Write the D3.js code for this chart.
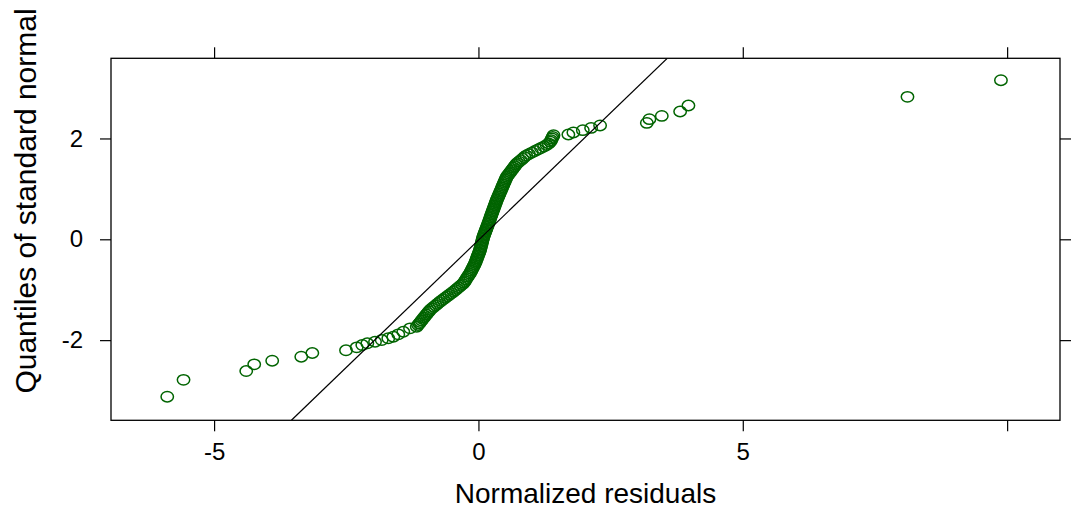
<!DOCTYPE html>
<html>
<head>
<meta charset="utf-8">
<script src="https://cdn.jsdelivr.net/npm/d3@7"></script>
<style>
  html, body { margin: 0; padding: 0; background: #ffffff; }
  svg { display: block; }
  text { font-family: "Liberation Sans", Arial, Helvetica, sans-serif; fill: #000; }
</style>
</head>
<body>
<svg id="chart" width="1071" height="509"></svg>
<script>
// Normal Q-Q plot of normalized residuals: [residual, theoretical quantile]
const lowerTail = [
  [-5.886, -3.122], [-5.578, -2.788], [-4.392, -2.613], [-4.241, -2.480],
  [-3.901, -2.408], [-3.351, -2.329], [-3.142, -2.255], [-2.505, -2.202],
  [-2.303, -2.143], [-2.197, -2.097], [-2.102, -2.063], [-1.956, -2.032],
  [-1.830, -1.998], [-1.705, -1.964], [-1.610, -1.933], [-1.516, -1.885],
  [-1.421, -1.834], [-1.294, -1.766], [-1.167, -1.734]
];

const band = [
  [-1.142, -1.70], [-1.120, -1.67], [-1.097, -1.64], [-1.075, -1.61], [-1.052, -1.58],
  [-1.030, -1.55], [-1.007, -1.52], [-0.985, -1.49], [-0.960, -1.46], [-0.937, -1.43],
  [-0.914, -1.40], [-0.878, -1.37], [-0.843, -1.34], [-0.808, -1.31], [-0.774, -1.28],
  [-0.740, -1.25], [-0.703, -1.22], [-0.665, -1.19], [-0.627, -1.16], [-0.589, -1.13],
  [-0.551, -1.10], [-0.513, -1.07], [-0.474, -1.04], [-0.440, -1.01], [-0.406, -0.98],
  [-0.372, -0.95], [-0.338, -0.92], [-0.304, -0.89], [-0.275, -0.86], [-0.258, -0.83],
  [-0.239, -0.80], [-0.219, -0.77], [-0.200, -0.74], [-0.181, -0.71], [-0.162, -0.68],
  [-0.146, -0.65], [-0.132, -0.62], [-0.117, -0.59], [-0.103, -0.56], [-0.089, -0.53],
  [-0.074, -0.50], [-0.061, -0.47], [-0.050, -0.44], [-0.039, -0.41], [-0.029, -0.38],
  [-0.018, -0.35], [-0.008, -0.32], [0.003, -0.29], [0.014, -0.26], [0.024, -0.23],
  [0.033, -0.20], [0.040, -0.17], [0.048, -0.14], [0.055, -0.11], [0.062, -0.08],
  [0.069, -0.05], [0.076, -0.02], [0.083, 0.01], [0.091, 0.04], [0.100, 0.07],
  [0.111, 0.10], [0.121, 0.13], [0.132, 0.16], [0.143, 0.19], [0.153, 0.22],
  [0.164, 0.25], [0.175, 0.28], [0.185, 0.31], [0.196, 0.34], [0.206, 0.37],
  [0.216, 0.40], [0.227, 0.43], [0.237, 0.46], [0.247, 0.49], [0.258, 0.52],
  [0.268, 0.55], [0.278, 0.58], [0.289, 0.61], [0.299, 0.64], [0.309, 0.67],
  [0.320, 0.70], [0.330, 0.73], [0.340, 0.76], [0.351, 0.79], [0.363, 0.82],
  [0.376, 0.85], [0.388, 0.88], [0.400, 0.91], [0.412, 0.94], [0.425, 0.97],
  [0.437, 1.00], [0.449, 1.03], [0.462, 1.06], [0.474, 1.09], [0.486, 1.12],
  [0.499, 1.15], [0.511, 1.18], [0.523, 1.21], [0.536, 1.24], [0.557, 1.27],
  [0.579, 1.30], [0.600, 1.33], [0.622, 1.36], [0.643, 1.39], [0.665, 1.42],
  [0.686, 1.45], [0.708, 1.48], [0.730, 1.51], [0.766, 1.54], [0.800, 1.57],
  [0.835, 1.60], [0.869, 1.63], [0.903, 1.66], [0.954, 1.69], [1.011, 1.72],
  [1.068, 1.75], [1.125, 1.78], [1.182, 1.81], [1.240, 1.84]
];

const upperTail = [
  [1.290, 1.870], [1.330, 1.900], [1.360, 1.935], [1.375, 1.965], [1.390, 2.000],
  [1.405, 2.030], [1.420, 2.065], [1.701, 2.079], [1.796, 2.119], [1.974, 2.165],
  [2.131, 2.210], [2.301, 2.258], [3.185, 2.309], [3.234, 2.383], [3.468, 2.448],
  [3.815, 2.535], [3.972, 2.654], [8.115, 2.825], [9.883, 3.156]
];

// Reference line through the quartiles
const refIntercept = -0.017;
const refSlope = 1.01;

const xTicks = [-5, 0, 5, 10];
const xTickLabels = ["-5", "0", "5", ""];
const yTicks = [-2, 0, 2];
const yTickLabels = ["-2", "0", "2"];

const xTitle = "Normalized residuals";
const yTitle = "Quantiles of standard normal";

// Panel geometry
const panel = { left: 111, right: 1060, top: 58.3, bottom: 420.3 };
const tickLen = 11;
const pointColor = "#006400";

const svg = d3.select("#chart");

const x = d3.scaleLinear().domain([-6.95, 11.0]).range([panel.left, panel.right]);
const y = d3.scaleLinear().domain([-3.59, 3.59]).range([panel.bottom, panel.top]);

const points = lowerTail.concat(band, upperTail);

// Clip region for the reference line
svg.append("defs").append("clipPath").attr("id", "panel-clip")
  .append("rect")
  .attr("x", panel.left).attr("y", panel.top)
  .attr("width", panel.right - panel.left)
  .attr("height", panel.bottom - panel.top);

// Points
svg.append("g")
  .selectAll("ellipse")
  .data(points)
  .join("ellipse")
  .attr("cx", d => x(d[0]))
  .attr("cy", d => y(d[1]))
  .attr("rx", 6.2)
  .attr("ry", 5.2)
  .attr("fill", "none")
  .attr("stroke", pointColor)
  .attr("stroke-width", 1.5);

// Reference line, spanning the full y range and clipped to the panel
const [y0, y1] = y.domain();
svg.append("line")
  .attr("clip-path", "url(#panel-clip)")
  .attr("x1", x((y0 - refIntercept) / refSlope)).attr("y1", y(y0))
  .attr("x2", x((y1 - refIntercept) / refSlope)).attr("y2", y(y1))
  .attr("stroke", "#000")
  .attr("stroke-width", 1.2);

// Axes on all four sides (labels on bottom and left only)
const bottomAxis = d3.axisBottom(x).tickValues(xTicks)
  .tickFormat((d, i) => xTickLabels[i]).tickSizeInner(tickLen).tickSizeOuter(0).tickPadding(12);
const topAxis = d3.axisTop(x).tickValues(xTicks)
  .tickFormat("").tickSizeInner(tickLen).tickSizeOuter(0);
const leftAxis = d3.axisLeft(y).tickValues(yTicks)
  .tickFormat((d, i) => yTickLabels[i]).tickSizeInner(tickLen).tickSizeOuter(0).tickPadding(17);
const rightAxis = d3.axisRight(y).tickValues(yTicks)
  .tickFormat("").tickSizeInner(tickLen).tickSizeOuter(0);

function styleAxis(g) {
  g.select(".domain").remove();
  g.selectAll(".tick line").attr("stroke", "#000").attr("stroke-width", 1.2);
  g.selectAll(".tick text")
    .attr("font-family", '"Liberation Sans", Arial, sans-serif')
    .attr("font-size", 24)
    .attr("fill", "#000");
}

svg.append("g").attr("transform", `translate(0,${panel.bottom})`).call(bottomAxis).call(styleAxis);
svg.append("g").attr("transform", `translate(0,${panel.top})`).call(topAxis).call(styleAxis);
svg.append("g").attr("transform", `translate(${panel.left},0)`).call(leftAxis).call(styleAxis);
svg.append("g").attr("transform", `translate(${panel.right},0)`).call(rightAxis).call(styleAxis);

// Panel border
svg.append("rect")
  .attr("x", panel.left).attr("y", panel.top)
  .attr("width", panel.right - panel.left)
  .attr("height", panel.bottom - panel.top)
  .attr("fill", "none")
  .attr("stroke", "#000")
  .attr("stroke-width", 1.3);

// Axis titles
svg.append("text")
  .attr("x", (panel.left + panel.right) / 2)
  .attr("y", 503)
  .attr("text-anchor", "middle")
  .attr("font-size", 28)
  .text(xTitle);

svg.append("text")
  .attr("transform", `translate(36,201) rotate(-90)`)
  .attr("text-anchor", "middle")
  .attr("font-size", 30)
  .text(yTitle);
</script>
</body>
</html>
